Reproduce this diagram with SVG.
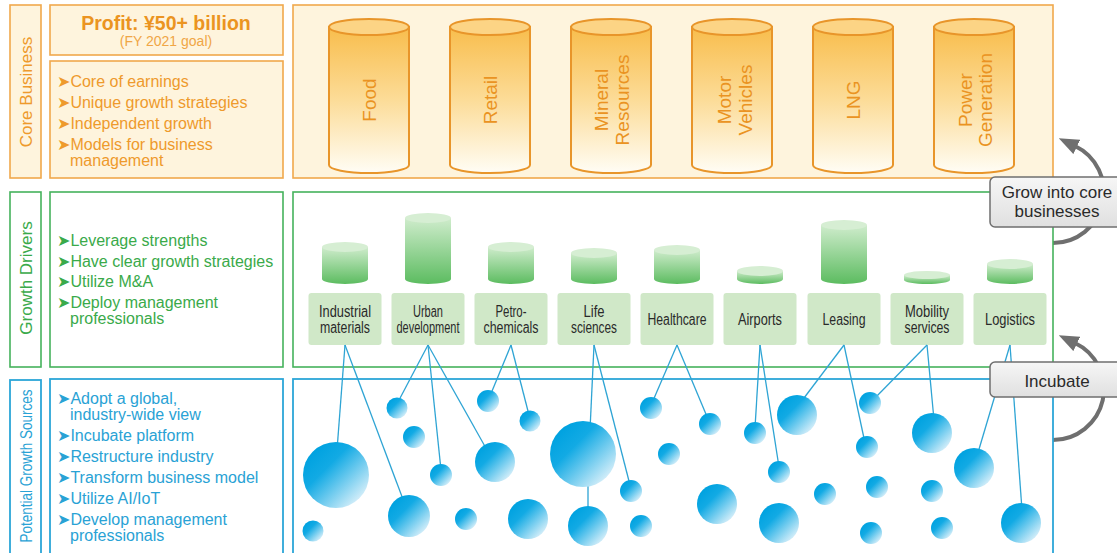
<svg xmlns="http://www.w3.org/2000/svg" width="1117" height="553" viewBox="0 0 1117 553">
<defs>
<style>
text{font-family:"Liberation Sans",Arial,sans-serif}
.arw{font-family:"DejaVu Sans",sans-serif}
.ob{fill:#fef4dd;stroke:#f0a84c;stroke-width:1.6}
.gb{fill:#fff;stroke:#45b25c;stroke-width:1.6}
.bb{fill:#fff;stroke:#2ca6d8;stroke-width:1.8}
.ot{fill:#ee9a2c;font-size:16px}
.gt{fill:#3aaa4a;font-size:16px}
.bt{fill:#29a2d5;font-size:16px}
.cbody{fill:url(#gCore);stroke:#e8952a;stroke-width:2}
.ctop{fill:#fcd485;stroke:#e8952a;stroke-width:2}
.ctxt{fill:#ea9322;font-size:19px;text-anchor:middle}
.gbody{fill:url(#gGreen)}
.gtop{fill:#d6eed3}
.glab{fill:#d0e8c8}
.gltxt{fill:#2a2a2a;font-size:16px;text-anchor:middle}
.bub{fill:url(#gBub)}
.conn line{stroke:#2ea4d4;stroke-width:1.3}
.gray{fill:url(#gGray);stroke:#6f6f6f;stroke-width:1.5}
.graytxt{fill:#2a2a2a;font-size:17px;text-anchor:middle}
.arc{fill:none;stroke:#6f6f6f;stroke-width:4;marker-end:url(#ah)}
</style>
<linearGradient id="gCore" x1="0" y1="0" x2="0" y2="1">
<stop offset="0" stop-color="#f8bd4c"/>
<stop offset="0.5" stop-color="#fcdc98"/>
<stop offset="1" stop-color="#fffdf5"/>
</linearGradient>
<linearGradient id="gGreen" x1="0" y1="0" x2="0" y2="1">
<stop offset="0" stop-color="#cfeccc"/>
<stop offset="1" stop-color="#5cbc60"/>
</linearGradient>
<linearGradient id="gBub" x1="0.15" y1="0.15" x2="0.9" y2="0.9">
<stop offset="0" stop-color="#00a2e0"/>
<stop offset="0.3" stop-color="#12aae4"/>
<stop offset="1" stop-color="#e2f3fb"/>
</linearGradient>
<linearGradient id="gGray" x1="0" y1="0" x2="0" y2="1">
<stop offset="0" stop-color="#f6f6f6"/>
<stop offset="1" stop-color="#e0e0e0"/>
</linearGradient>
<marker id="ah" viewBox="0 0 20 16" refX="2" refY="8" markerWidth="20" markerHeight="16" markerUnits="userSpaceOnUse" orient="auto">
<path d="M0,0 L20,8 L0,16 Z" fill="#6f6f6f"/>
</marker>
</defs>

<!-- arcs behind boxes -->
<g id="arrows">
<path class="arc" d="M1053,243 A51,51 0 0 0 1075,146"/>
<path class="arc" d="M1053,440 A51,51 0 0 0 1075,343"/>
</g>

<!-- Core business section -->
<g id="core-label">
<rect class="ob" x="10" y="5" width="31" height="173"/>
<text class="ot" transform="translate(25,92) rotate(-90)" y="7" text-anchor="middle" style="font-size:17px">Core Business</text>
</g>
<g id="core-profit">
<rect class="ob" x="50" y="5" width="233" height="50"/>
<text x="166" y="30" text-anchor="middle" style="fill:#eb9421;font-size:19.5px;font-weight:bold">Profit: ¥50+ billion</text>
<text x="166" y="46" text-anchor="middle" style="fill:#f0a646;font-size:14px">(FY 2021 goal)</text>
</g>
<g id="core-bullets">
<rect class="ob" x="50" y="61" width="233" height="117"/>
<text class="ot" x="57" y="87"><tspan class="arw">➤</tspan>Core of earnings</text>
<text class="ot" x="57" y="108"><tspan class="arw">➤</tspan>Unique growth strategies</text>
<text class="ot" x="57" y="129"><tspan class="arw">➤</tspan>Independent growth</text>
<text class="ot" x="57" y="150"><tspan class="arw">➤</tspan>Models for business</text>
<text class="ot" x="70" y="166">management</text>
</g>
<g id="core-main">
<rect class="ob" x="293" y="5" width="760" height="173"/>
</g>
<g id="cyl-food">
<path class="cbody" d="M329,27 V165 A40,8 0 0 0 409,165 V27 Z"/>
<ellipse class="ctop" cx="369" cy="27" rx="40" ry="8"/>
<text class="ctxt" transform="translate(369,100) rotate(-90)" y="7">Food</text>
</g>
<g id="cyl-retail">
<path class="cbody" d="M450,27 V165 A40,8 0 0 0 530,165 V27 Z"/>
<ellipse class="ctop" cx="490" cy="27" rx="40" ry="8"/>
<text class="ctxt" transform="translate(490,100) rotate(-90)" y="7">Retail</text>
</g>
<g id="cyl-mineral">
<path class="cbody" d="M571,27 V165 A40,8 0 0 0 651,165 V27 Z"/>
<ellipse class="ctop" cx="611" cy="27" rx="40" ry="8"/>
<text class="ctxt" transform="translate(611,100) rotate(-90)"><tspan x="0" y="-3">Mineral</tspan><tspan x="0" y="18">Resources</tspan></text>
</g>
<g id="cyl-motor">
<path class="cbody" d="M692,27 V165 A40,8 0 0 0 772,165 V27 Z"/>
<ellipse class="ctop" cx="732" cy="27" rx="40" ry="8"/>
<text class="ctxt" transform="translate(732,100) rotate(-90)"><tspan x="0" y="-1">Motor</tspan><tspan x="0" y="20">Vehicles</tspan></text>
</g>
<g id="cyl-lng">
<path class="cbody" d="M813,27 V165 A40,8 0 0 0 893,165 V27 Z"/>
<ellipse class="ctop" cx="853" cy="27" rx="40" ry="8"/>
<text class="ctxt" transform="translate(853,100) rotate(-90)" y="7">LNG</text>
</g>
<g id="cyl-power">
<path class="cbody" d="M934,27 V165 A40,8 0 0 0 1014,165 V27 Z"/>
<ellipse class="ctop" cx="974" cy="27" rx="40" ry="8"/>
<text class="ctxt" transform="translate(974,100) rotate(-90)"><tspan x="0" y="-2">Power</tspan><tspan x="0" y="18">Generation</tspan></text>
</g>

<!-- Growth drivers section -->
<g id="growth-label">
<rect class="gb" x="10" y="192" width="31" height="175"/>
<text class="gt" transform="translate(25,278) rotate(-90)" y="7" text-anchor="middle" style="font-size:17px">Growth Drivers</text>
</g>
<g id="growth-bullets">
<rect class="gb" x="50" y="192" width="233" height="175"/>
<text class="gt" x="57" y="246"><tspan class="arw">➤</tspan>Leverage strengths</text>
<text class="gt" x="57" y="267"><tspan class="arw">➤</tspan>Have clear growth strategies</text>
<text class="gt" x="57" y="287"><tspan class="arw">➤</tspan>Utilize M&amp;A</text>
<text class="gt" x="57" y="308"><tspan class="arw">➤</tspan>Deploy management</text>
<text class="gt" x="70" y="324">professionals</text>
</g>
<g id="growth-main">
<rect class="gb" x="293" y="192" width="760" height="175"/>
</g>

<!-- Potential growth sources section -->
<g id="potential-label">
<rect class="bb" x="10" y="380" width="31" height="185"/>
<text class="bt" transform="translate(25,466) rotate(-90)" y="7" text-anchor="middle" style="font-size:17px" textLength="153" lengthAdjust="spacingAndGlyphs">Potential Growth Sources</text>
</g>
<g id="potential-bullets">
<rect class="bb" x="50" y="379" width="233" height="185"/>
<text class="bt" x="57" y="404"><tspan class="arw">➤</tspan>Adopt a global,</text>
<text class="bt" x="70" y="420">industry-wide view</text>
<text class="bt" x="57" y="441"><tspan class="arw">➤</tspan>Incubate platform</text>
<text class="bt" x="57" y="462"><tspan class="arw">➤</tspan>Restructure industry</text>
<text class="bt" x="57" y="483"><tspan class="arw">➤</tspan>Transform business model</text>
<text class="bt" x="57" y="504"><tspan class="arw">➤</tspan>Utilize AI/IoT</text>
<text class="bt" x="57" y="525"><tspan class="arw">➤</tspan>Develop management</text>
<text class="bt" x="70" y="541">professionals</text>
</g>
<g id="potential-main">
<rect class="bb" x="293" y="379" width="760" height="185"/>
</g>

<!-- growth driver nodes -->
<g id="gd-industrial">
<path class="gbody" d="M322,247 V279 A23,5 0 0 0 368,279 V247 Z"/>
<ellipse class="gtop" cx="345" cy="247" rx="23" ry="5"/>
<rect class="glab" x="308.5" y="293" width="73" height="52" rx="3"/>
<text class="gltxt" x="345" y="317" textLength="52" lengthAdjust="spacingAndGlyphs">Industrial</text>
<text class="gltxt" x="345" y="333" textLength="50" lengthAdjust="spacingAndGlyphs">materials</text>
</g>
<g id="gd-urban">
<path class="gbody" d="M405,218 V279 A23,5 0 0 0 451,279 V218 Z"/>
<ellipse class="gtop" cx="428" cy="218" rx="23" ry="5"/>
<rect class="glab" x="391.5" y="293" width="73" height="52" rx="3"/>
<text class="gltxt" x="428" y="317" textLength="30" lengthAdjust="spacingAndGlyphs">Urban</text>
<text class="gltxt" x="428" y="333" textLength="63" lengthAdjust="spacingAndGlyphs">development</text>
</g>
<g id="gd-petro">
<path class="gbody" d="M488,247 V279 A23,5 0 0 0 534,279 V247 Z"/>
<ellipse class="gtop" cx="511" cy="247" rx="23" ry="5"/>
<rect class="glab" x="474.5" y="293" width="73" height="52" rx="3"/>
<text class="gltxt" x="511" y="317" textLength="31" lengthAdjust="spacingAndGlyphs">Petro-</text>
<text class="gltxt" x="511" y="333" textLength="55" lengthAdjust="spacingAndGlyphs">chemicals</text>
</g>
<g id="gd-life">
<path class="gbody" d="M571,253 V279 A23,5 0 0 0 617,279 V253 Z"/>
<ellipse class="gtop" cx="594" cy="253" rx="23" ry="5"/>
<rect class="glab" x="557.5" y="293" width="73" height="52" rx="3"/>
<text class="gltxt" x="594" y="317" textLength="21" lengthAdjust="spacingAndGlyphs">Life</text>
<text class="gltxt" x="594" y="333" textLength="46" lengthAdjust="spacingAndGlyphs">sciences</text>
</g>
<g id="gd-health">
<path class="gbody" d="M654,250 V279 A23,5 0 0 0 700,279 V250 Z"/>
<ellipse class="gtop" cx="677" cy="250" rx="23" ry="5"/>
<rect class="glab" x="640.5" y="293" width="73" height="52" rx="3"/>
<text class="gltxt" x="677" y="325" textLength="59" lengthAdjust="spacingAndGlyphs">Healthcare</text>
</g>
<g id="gd-airports">
<path class="gbody" d="M737,271 V279 A23,5 0 0 0 783,279 V271 Z"/>
<ellipse class="gtop" cx="760" cy="271" rx="23" ry="5"/>
<rect class="glab" x="723.5" y="293" width="73" height="52" rx="3"/>
<text class="gltxt" x="760" y="325" textLength="44" lengthAdjust="spacingAndGlyphs">Airports</text>
</g>
<g id="gd-leasing">
<path class="gbody" d="M821,225 V279 A23,5 0 0 0 867,279 V225 Z"/>
<ellipse class="gtop" cx="844" cy="225" rx="23" ry="5"/>
<rect class="glab" x="807.5" y="293" width="73" height="52" rx="3"/>
<text class="gltxt" x="844" y="325" textLength="43" lengthAdjust="spacingAndGlyphs">Leasing</text>
</g>
<g id="gd-mobility">
<path class="gbody" d="M904,275 V280 A23,4 0 0 0 950,280 V275 Z"/>
<ellipse class="gtop" cx="927" cy="275" rx="23" ry="4"/>
<rect class="glab" x="890.5" y="293" width="73" height="52" rx="3"/>
<text class="gltxt" x="927" y="317" textLength="44" lengthAdjust="spacingAndGlyphs">Mobility</text>
<text class="gltxt" x="927" y="333" textLength="45" lengthAdjust="spacingAndGlyphs">services</text>
</g>
<g id="gd-logistics">
<path class="gbody" d="M987,264 V279 A23,5 0 0 0 1033,279 V264 Z"/>
<ellipse class="gtop" cx="1010" cy="264" rx="23" ry="5"/>
<rect class="glab" x="973.5" y="293" width="73" height="52" rx="3"/>
<text class="gltxt" x="1010" y="325" textLength="50" lengthAdjust="spacingAndGlyphs">Logistics</text>
</g>

<!-- connectors -->
<g id="connectors" class="conn">
<line x1="345" y1="345" x2="337" y2="450"/>
<line x1="345" y1="345" x2="404" y2="502"/>
<line x1="428" y1="345" x2="398" y2="402"/>
<line x1="428" y1="345" x2="441" y2="470"/>
<line x1="428" y1="345" x2="487" y2="450"/>
<line x1="511" y1="345" x2="490" y2="396"/>
<line x1="511" y1="345" x2="529" y2="415"/>
<line x1="594" y1="345" x2="590" y2="430"/>
<line x1="594" y1="345" x2="630" y2="485"/>
<line x1="588" y1="480" x2="588" y2="512"/>
<line x1="677" y1="345" x2="652" y2="403"/>
<line x1="677" y1="345" x2="708" y2="419"/>
<line x1="760" y1="345" x2="755" y2="428"/>
<line x1="760" y1="345" x2="779" y2="467"/>
<line x1="844" y1="345" x2="801" y2="402"/>
<line x1="844" y1="345" x2="865" y2="443"/>
<line x1="927" y1="345" x2="873" y2="400"/>
<line x1="927" y1="345" x2="934" y2="420"/>
<line x1="1010" y1="345" x2="977" y2="456"/>
<line x1="1010" y1="345" x2="1022" y2="510"/>
</g>

<!-- bubbles -->
<g id="bubbles">
<circle class="bub" cx="336" cy="475" r="33"/>
<circle class="bub" cx="397" cy="408" r="10.5"/>
<circle class="bub" cx="414" cy="437" r="11"/>
<circle class="bub" cx="441" cy="475" r="11"/>
<circle class="bub" cx="409" cy="516" r="21"/>
<circle class="bub" cx="495" cy="462" r="20"/>
<circle class="bub" cx="488" cy="401" r="11"/>
<circle class="bub" cx="530" cy="421" r="10.5"/>
<circle class="bub" cx="466" cy="519" r="11"/>
<circle class="bub" cx="528" cy="519" r="20"/>
<circle class="bub" cx="583" cy="454" r="33"/>
<circle class="bub" cx="588" cy="526" r="20"/>
<circle class="bub" cx="631" cy="491" r="11"/>
<circle class="bub" cx="641" cy="526" r="11"/>
<circle class="bub" cx="651" cy="408" r="11"/>
<circle class="bub" cx="669" cy="454" r="11"/>
<circle class="bub" cx="313" cy="531" r="10.5"/>
<circle class="bub" cx="710" cy="424" r="11"/>
<circle class="bub" cx="717" cy="504" r="20"/>
<circle class="bub" cx="755" cy="433" r="11"/>
<circle class="bub" cx="779" cy="472" r="11"/>
<circle class="bub" cx="797" cy="415" r="20"/>
<circle class="bub" cx="870" cy="403" r="11"/>
<circle class="bub" cx="867" cy="447" r="11"/>
<circle class="bub" cx="932" cy="433" r="20"/>
<circle class="bub" cx="974" cy="468" r="20"/>
<circle class="bub" cx="1021" cy="523" r="20"/>
<circle class="bub" cx="779" cy="523" r="20"/>
<circle class="bub" cx="825" cy="494" r="11"/>
<circle class="bub" cx="877" cy="487" r="11"/>
<circle class="bub" cx="871" cy="533" r="11"/>
<circle class="bub" cx="932" cy="491" r="11"/>
<circle class="bub" cx="942" cy="528" r="11"/>
</g>

<!-- right-side callouts -->
<g id="grow-into-core">
<rect class="gray" x="990" y="177" width="140" height="50" rx="5"/>
<text class="graytxt"><tspan x="1057" y="198">Grow into core</tspan><tspan x="1057" y="217">businesses</tspan></text>
</g>
<g id="incubate">
<rect class="gray" x="990" y="362" width="140" height="35" rx="5"/>
<text class="graytxt" x="1057" y="387">Incubate</text>
</g>
</svg>
